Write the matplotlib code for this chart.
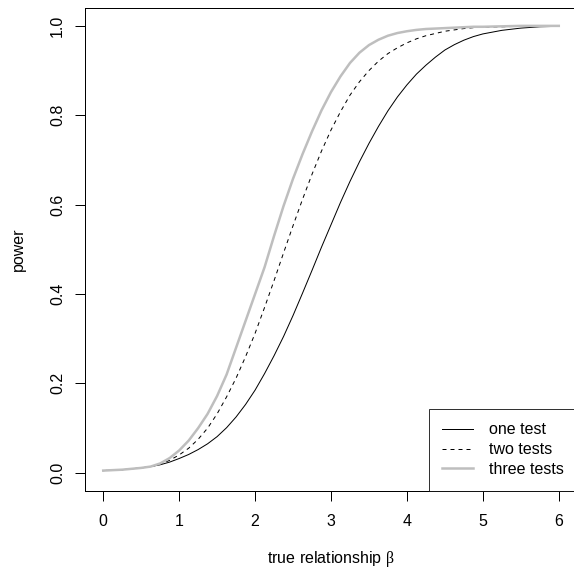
import numpy as np
import matplotlib.pyplot as plt

plt.rcParams['font.family'] = ['Liberation Sans', 'DejaVu Sans']
plt.rcParams['mathtext.fontset'] = 'custom'
plt.rcParams['mathtext.rm'] = 'Liberation Serif'

#%% power curves (finer steps where they bend)
beta = [0.0, 0.25, 0.5, 0.625, 0.75, 0.875, 1.0, 1.125, 1.25, 1.375, 1.5,
        1.625, 1.75, 1.875, 2.0, 2.125, 2.25, 2.375, 2.5, 2.625, 2.75, 2.875,
        3.0, 3.125, 3.25, 3.375, 3.5, 3.625, 3.75, 3.875, 4.0, 4.125, 4.25,
        4.375, 4.5, 4.625, 4.75, 4.875, 5.0, 5.25, 5.5, 5.75, 6.0]
one_test = [0.005, 0.007, 0.011, 0.014, 0.018, 0.024, 0.032, 0.041, 0.052,
            0.065, 0.081, 0.101, 0.125, 0.153, 0.185, 0.222, 0.262, 0.305,
            0.352, 0.402, 0.453, 0.505, 0.555, 0.605, 0.652, 0.696, 0.737,
            0.775, 0.81, 0.841, 0.868, 0.892, 0.912, 0.930, 0.946, 0.958,
            0.968, 0.976, 0.982, 0.990, 0.995, 0.998, 0.999]
two_tests = [0.005, 0.007, 0.011, 0.014, 0.019, 0.028, 0.04, 0.055, 0.075,
             0.10, 0.132, 0.17, 0.212, 0.26, 0.312, 0.37, 0.43, 0.492, 0.553,
             0.612, 0.668, 0.72, 0.767, 0.808, 0.845, 0.875, 0.90, 0.921,
             0.938, 0.951, 0.962, 0.971, 0.978, 0.983, 0.988, 0.991, 0.994,
             0.996, 0.997, 0.998, 0.999, 1.0, 1.0]
three_tests = [0.005, 0.007, 0.011, 0.014, 0.021, 0.033, 0.05, 0.072, 0.10,
               0.132, 0.172, 0.22, 0.28, 0.34, 0.40, 0.46, 0.53, 0.597, 0.658,
               0.713, 0.764, 0.811, 0.852, 0.887, 0.917, 0.94, 0.957, 0.969,
               0.978, 0.984, 0.988, 0.991, 0.993, 0.994, 0.995, 0.996, 0.997,
               0.998, 0.998, 0.999, 1.0, 1.0, 1.0]

xticks = [0, 1, 2, 3, 4, 5, 6]
yticks = [0.0, 0.2, 0.4, 0.6, 0.8, 1.0]

#%% figure
fig = plt.figure(figsize=(574 / 72, 569 / 72), dpi=72)
ax = fig.add_axes([85 / 574, 1 - 490.7 / 569, 492 / 574, 482.7 / 569])

ax.plot(beta, one_test, color='black', lw=1, label='one test')
ax.plot(beta, two_tests, color='black', lw=1, dashes=(4, 4), label='two tests')
ax.plot(beta, three_tests, color='#bebebe', lw=2.5, solid_joinstyle='round',
        label='three tests')

ax.set_xlim(-0.24, 6.24)
ax.set_ylim(-0.04, 1.04)
ax.set_xticks(xticks)
ax.set_xticklabels([str(t) for t in xticks])
ax.set_yticks(yticks)
ax.set_yticklabels(['%.1f' % t for t in yticks], rotation=90, va='center')
ax.tick_params(direction='out', length=10, width=1, labelsize=16)
ax.tick_params(axis='x', pad=13)
ax.tick_params(axis='y', pad=10)

for s in ax.spines.values():
    s.set_linewidth(1)

ax.set_xlabel(r'true relationship $\mathrm{\beta}$', fontsize=16, labelpad=20)
ax.set_ylabel('power', fontsize=16, labelpad=24)

leg = ax.legend(loc='lower right', fontsize=16, frameon=True, fancybox=False,
                borderaxespad=0, borderpad=0.85, handlelength=1.95,
                handletextpad=0.94, labelspacing=0.31)
leg.get_frame().set_edgecolor('black')
leg.get_frame().set_linewidth(1)

fig.savefig('out.png', dpi=72)
